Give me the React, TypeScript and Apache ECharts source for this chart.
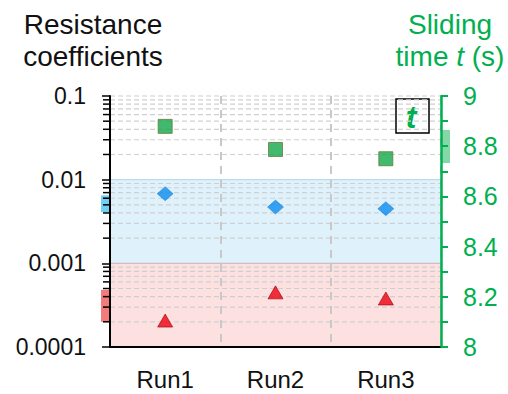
import React, { useEffect, useRef } from "react";
import * as echarts from "echarts";

const categories = ["Run1", "Run2", "Run3"];
const tValues = [8.879, 8.787, 8.75];
const muValues = [0.0068, 0.0047, 0.0045];
const bdValues = [0.000207, 0.00045, 0.00038];
const muRange = [0.0041, 0.0065];
const bdRange = [0.0002, 0.00048];
const tRange = [8.733, 8.865];
const muBand = [0.001, 0.01];
const bdBand = [0.0001, 0.001];
const leftTickLabels = ["0.0001", "0.001", "0.01", "0.1"];
const decades = [0.0001, 0.001, 0.01];
const minorMultipliers = [2, 3, 4, 5, 6, 7, 8, 9];

const FONT = "Liberation Sans, Arial, sans-serif";
const GREEN = "#00b050";

export default function App() {
  const ref = useRef<HTMLDivElement>(null);
  useEffect(() => {
    if (!ref.current) return;
    const chart = echarts.init(ref.current, undefined, { renderer: "svg" });

    // grid helper lines: [catIndex, value, isMinorTick]
    const gridData: number[][] = [];
    decades.forEach((d) => minorMultipliers.forEach((m) => gridData.push([0, d * m, 1])));
    gridData.push([0, 0.1, 0]);

    const rangeRect = (params: any, api: any) => {
      const cs = params.coordSys;
      const y1 = api.coord([0, api.value(1)])[1];
      const y2 = api.coord([0, api.value(2)])[1];
      const side = api.value(3);
      const x = side === 0 ? cs.x - 9 : cs.x + cs.width + 1;
      return {
        type: "rect",
        shape: { x, y: Math.min(y1, y2), width: 8, height: Math.abs(y2 - y1) },
        style: { fill: api.visual("color") },
      };
    };

    chart.setOption({
      animation: false,
      grid: { left: 110, right: 67, top: 96, bottom: 47 },
      xAxis: {
        type: "category",
        data: categories,
        boundaryGap: true,
        z: 3,
        axisLine: { show: true, onZero: false, lineStyle: { color: "#000", width: 2 } },
        axisTick: { show: false },
        axisLabel: { color: "#111", fontSize: 24, fontFamily: FONT, margin: 20 },
        splitLine: { show: true, lineStyle: { color: "#c8c8c8", width: 2, type: [8, 6] } },
      },
      yAxis: [
        {
          type: "log",
          logBase: 10,
          min: 0.0001,
          max: 0.1,
          position: "left",
          z: 4,
          axisLine: { show: true, lineStyle: { color: "#000", width: 2 } },
          axisTick: { show: true, inside: false, length: 8, lineStyle: { color: "#000", width: 1.5 } },
          axisLabel: {
            color: "#111",
            fontSize: 23,
            fontFamily: FONT,
            margin: 24,
            formatter: (v: number) => leftTickLabels[Math.round(Math.log10(v)) + 4] ?? "",
          },
          splitLine: { show: false },
        },
        {
          type: "value",
          min: 8,
          max: 9,
          interval: 0.1,
          position: "right",
          z: 4,
          axisLine: { show: true, lineStyle: { color: GREEN, width: 2.5 } },
          axisTick: { show: true, inside: false, length: 7, lineStyle: { color: GREEN, width: 2 } },
          axisLabel: {
            color: GREEN,
            fontSize: 25,
            fontFamily: FONT,
            margin: 22,
            formatter: (v: number) => {
              const k = Math.round(v * 10);
              return k % 2 === 0 ? String(k / 10) : "";
            },
          },
          splitLine: { show: false },
        },
      ],
      series: [
        {
          type: "custom",
          name: "grid",
          silent: true,
          clip: false,
          z: 2,
          xAxisIndex: 0,
          yAxisIndex: 0,
          data: gridData,
          encode: { x: 0, y: 1 },
          renderItem: (params: any, api: any) => {
            const cs = params.coordSys;
            const y = api.coord([0, api.value(1)])[1];
            const children: any[] = [
              {
                type: "line",
                shape: { x1: cs.x, y1: y, x2: cs.x + cs.width, y2: y },
                style: { stroke: "#cfcfcf", lineWidth: 1.2, lineDash: [5, 3] },
              },
            ];
            if (api.value(2) === 1) {
              children.push({
                type: "line",
                z2: 50,
                shape: { x1: cs.x - 7, y1: y, x2: cs.x, y2: y },
                style: { stroke: "#000", lineWidth: 1.5 },
              });
            }
            return { type: "group", children };
          },
        },
        {
          type: "custom",
          name: "ranges",
          silent: true,
          clip: false,
          z: 1,
          yAxisIndex: 0,
          data: [
            { value: [0, muRange[0], muRange[1], 0], itemStyle: { color: "rgba(80,196,240,0.8)" } },
            { value: [0, bdRange[0], bdRange[1], 0], itemStyle: { color: "rgba(240,90,90,0.8)" } },
          ],
          encode: { x: 0, y: 1 },
          renderItem: rangeRect,
        },
        {
          type: "custom",
          name: "tRange",
          silent: true,
          clip: false,
          z: 1,
          yAxisIndex: 1,
          data: [{ value: [0, tRange[0], tRange[1], 1], itemStyle: { color: "rgba(110,208,150,0.85)" } }],
          encode: { x: 0, y: 1 },
          renderItem: rangeRect,
        },
        {
          type: "scatter",
          name: "mu",
          yAxisIndex: 0,
          z: 5,
          data: muValues,
          symbol: "diamond",
          symbolSize: [16, 14],
          itemStyle: { color: "#0a8cf0", borderColor: "#0a6ac0", borderWidth: 0.5 },
          markArea: {
            silent: true,
            z: 0,
            data: [
              [
                { yAxis: muBand[0], itemStyle: { color: "#dff2fb", borderColor: "#a8d6ec", borderWidth: 1 } },
                { yAxis: muBand[1] },
              ],
              [
                { yAxis: bdBand[0], itemStyle: { color: "#fde1e1", borderColor: "#d6b2ba", borderWidth: 1 } },
                { yAxis: bdBand[1] },
              ],
            ],
          },
        },
        {
          type: "scatter",
          name: "BD",
          yAxisIndex: 0,
          z: 5,
          data: bdValues,
          symbol: "triangle",
          symbolSize: [15, 13],
          itemStyle: { color: "#ee0010", borderColor: "#a00010", borderWidth: 0.8 },
        },
        {
          type: "scatter",
          name: "t",
          yAxisIndex: 1,
          z: 5,
          data: tValues,
          symbol: "rect",
          symbolSize: 14,
          itemStyle: { color: "#12a84a", borderColor: "#6b7a3a", borderWidth: 1 },
        },
      ],
      graphic: [
        {
          type: "text",
          x: 93,
          y: 8,
          z: 10,
          style: {
            text: "Resistance\ncoefficients",
            fontSize: 28,
            lineHeight: 32,
            fontFamily: FONT,
            fill: "#111",
            textAlign: "center",
          },
        },
        {
          type: "text",
          x: 450,
          y: 8,
          z: 10,
          style: {
            text: "{a|Sliding}\n{a|time }{i|t}{a| (s)}",
            fontFamily: FONT,
            textAlign: "center",
            rich: {
              a: { fontSize: 28, lineHeight: 32, fill: GREEN, fontFamily: FONT },
              i: { fontSize: 28, lineHeight: 32, fill: GREEN, fontStyle: "italic", fontFamily: FONT },
            },
          },
        },
        {
          type: "group",
          z: 10,
          children: [
            { type: "rect", shape: { x: 122, y: 209, width: 33, height: 34 }, style: { fill: "#fff", stroke: "#000", lineWidth: 1.5 } },
            {
              type: "text",
              x: 137,
              y: 227,
              style: { text: "μ", fontSize: 30, fontWeight: "bold", fontStyle: "italic", fill: "#14149a", fontFamily: FONT, textAlign: "center", textVerticalAlign: "middle" },
            },
            { type: "rect", shape: { x: 121, y: 272, width: 34, height: 33 }, style: { fill: "#fff", stroke: "#000", lineWidth: 1.5 } },
            {
              type: "text",
              x: 123,
              y: 298,
              style: { text: "B", fontSize: 26, fontStyle: "italic", fill: "#dd0000", fontFamily: FONT, textVerticalAlign: "bottom" },
            },
            {
              type: "text",
              x: 141,
              y: 302,
              style: { text: "D", fontSize: 18, fontStyle: "italic", fill: "#dd0000", fontFamily: FONT, textVerticalAlign: "bottom" },
            },
            { type: "rect", shape: { x: 396, y: 99, width: 33, height: 34 }, style: { fill: "#fff", stroke: "#000", lineWidth: 1.5 } },
            {
              type: "text",
              x: 411,
              y: 117,
              style: { text: "t", fontSize: 32, fontWeight: "bold", fontStyle: "italic", fill: GREEN, fontFamily: FONT, textAlign: "center", textVerticalAlign: "middle" },
            },
          ],
        },
      ],
    });
    return () => chart.dispose();
  }, []);
  return <div ref={ref} style={{ width: 508, height: 394, position: "absolute", left: 0, top: 0 }} />;
}
